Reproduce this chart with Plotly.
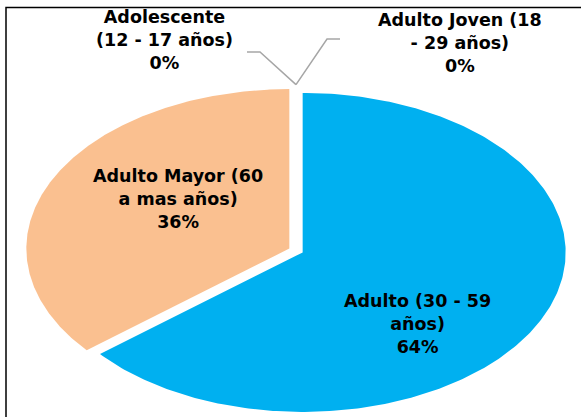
import numpy as np
import plotly.graph_objects as go

# ---- data ----
categories = ["Adolescente (12 - 17 años)", "Adulto Joven (18 - 29 años)",
              "Adulto (30 - 59 años)", "Adulto Mayor (60 a mas años)"]
values = [0, 0, 64, 36]
label_names = ["Adolescente<br>(12 - 17 años)", "Adulto Joven (18<br>- 29 años)",
               "Adulto (30 - 59<br>años)", "Adulto Mayor (60<br>a mas años)"]
colors = ["#A5A5A5", "#FFC000", "#00B0F0", "#FAC090"]

# ---- layout geometry (pixels) ----
W, H = 581, 417
CX, CY = 296, 250.5      # pie centre
RX, RY = 263, 159.5      # pie radii (stretched pie)
EXPLODE = 0.028
label_pos = [(164, 40), (460, 43), (417, 324), (178, 199)]
leader_pts = {0: [(247, 52), (260, 52)], 1: [(340, 39), (327, 39)]}
LEADER_R = 1.04


def X(px):
    return (px - CX) / RX


def Y(py):
    return (CY - py) / RY


total = float(sum(values))
fig = go.Figure()

cum = 0.0
for i, v in enumerate(values):
    th0 = np.pi / 2 - cum / total * 2 * np.pi
    th1 = th0 - v / total * 2 * np.pi
    cum += v
    pct = f"{round(v / total * 100):.0f}%"
    text = f"{label_names[i]}<br>{pct}"
    if v > 0:
        mid = (th0 + th1) / 2
        ox, oy = EXPLODE * np.cos(mid), EXPLODE * np.sin(mid)
        t = np.linspace(th0, th1, 300)
        xs = np.concatenate([[ox], ox + np.cos(t), [ox]])
        ys = np.concatenate([[oy], oy + np.sin(t), [oy]])
        fig.add_trace(go.Scatter(x=xs, y=ys, mode="lines", fill="toself",
                                 fillcolor=colors[i], line=dict(width=0, color=colors[i]),
                                 hoverinfo="text", hovertext=f"{categories[i]}: {pct}",
                                 showlegend=False))
    else:
        ex, ey = LEADER_R * np.cos(th0), LEADER_R * np.sin(th0)
        pts = leader_pts[i]
        lx = [X(p[0]) for p in pts] + [ex]
        ly = [Y(p[1]) for p in pts] + [ey]
        fig.add_trace(go.Scatter(x=lx, y=ly, mode="lines",
                                 line=dict(width=1.5, color="#A6A6A6"),
                                 hoverinfo="skip", showlegend=False))
    px, py = label_pos[i]
    fig.add_annotation(x=X(px), y=Y(py), xref="x", yref="y", text=text,
                       showarrow=False, xanchor="center", yanchor="middle",
                       align="center",
                       font=dict(family="DejaVu Sans", size=17.5, color="black",
                                 weight="bold"))

# frame border (top and left visible)
fig.add_shape(type="rect", xref="paper", yref="paper",
              x0=6 / W, x1=1.05, y0=-0.05, y1=1 - 7.5 / H,
              line=dict(color="black", width=1.5), fillcolor="rgba(0,0,0,0)")

fig.update_layout(
    width=W, height=H,
    margin=dict(l=0, r=0, t=0, b=0),
    paper_bgcolor="white", plot_bgcolor="white",
    xaxis=dict(visible=False, range=[X(0), X(W)], fixedrange=True),
    yaxis=dict(visible=False, range=[Y(H), Y(0)], fixedrange=True),
    showlegend=False,
)

fig.write_html("out.html", config={"displayModeBar": False},
               post_script="document.body.style.margin='0';document.body.style.overflow='hidden';")
